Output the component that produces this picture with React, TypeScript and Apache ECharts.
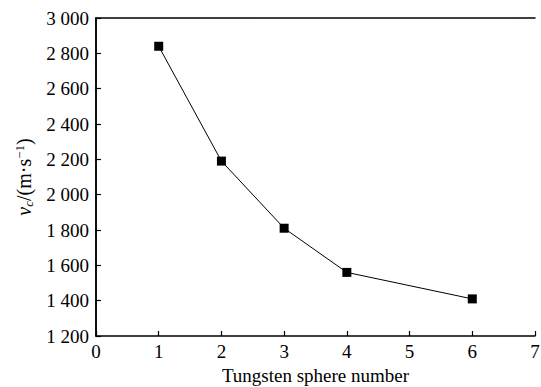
import React, { useEffect, useRef } from "react";
import * as echarts from "echarts";

const xValues = [1, 2, 3, 4, 6];
const yValues = [2840, 2190, 1810, 1560, 1410];
const xName = "Tungsten sphere number";
const yNameParts = ["v", "c", "/(m·s", "−1", ")"];

const FONT = "serif";

export default function App() {
  const ref = useRef<HTMLDivElement>(null);
  useEffect(() => {
    if (!ref.current) return;
    const chart = echarts.init(ref.current, null, { renderer: "svg" });
    const axisLine = { show: true, lineStyle: { color: "#000", width: 1.5 } };
    const fmtY = (v: number) => {
      const s = String(v);
      return s.length > 3 ? s.slice(0, s.length - 3) + " " + s.slice(-3) : s;
    };
    const yName = `{v|${yNameParts[0]}}{sub|${yNameParts[1]}}{n|${yNameParts[2]}}{sup|${yNameParts[3]}}{n|${yNameParts[4]}}`;
    chart.setOption({
      animation: false,
      grid: { left: 96, right: 6, top: 18, bottom: 51, containLabel: false, outerBoundsMode: "none" },
      xAxis: [
        {
          type: "value",
          min: 0,
          max: 7,
          interval: 1,
          axisLine,
          axisTick: { show: true, inside: true, length: 5, lineStyle: { color: "#000", width: 1.2 } },
          axisLabel: { color: "#000", fontFamily: FONT, fontSize: 19, margin: 6 },
          splitLine: { show: false },
          name: xName,
          nameLocation: "middle",
          nameGap: 20,
          nameTextStyle: { color: "#000", fontFamily: FONT, fontSize: 19 },
        },
        {
          type: "value",
          position: "top",
          min: 0,
          max: 7,
          interval: 1,
          axisLine,
          axisTick: { show: false },
          axisLabel: { show: false },
          splitLine: { show: false },
        },
      ],
      yAxis: [
        {
          type: "value",
          min: 1200,
          max: 3000,
          interval: 200,
          axisLine,
          axisTick: { show: true, inside: true, length: 5, lineStyle: { color: "#000", width: 1.2 } },
          axisLabel: { color: "#000", fontFamily: FONT, fontSize: 19, margin: 7, formatter: fmtY },
          splitLine: { show: false },
          name: yName,
          nameLocation: "middle",
          nameRotate: 90,
          nameGap: 60,
          nameTextStyle: {
            color: "#000",
            fontFamily: FONT,
            fontSize: 20,
            rich: {
              n: { fontFamily: FONT, fontSize: 20, color: "#000" },
              v: { fontFamily: FONT, fontSize: 20, fontStyle: "italic", color: "#000" },
              sub: { fontFamily: FONT, fontSize: 13, fontStyle: "italic", color: "#000", verticalAlign: "bottom", padding: [9, 0, 0, 0] },
              sup: { fontFamily: FONT, fontSize: 13, color: "#000", verticalAlign: "top", padding: [0, 0, 9, 0] },
            },
          },
        },
        {
          type: "value",
          position: "right",
          min: 1200,
          max: 3000,
          interval: 200,
          axisLine,
          axisTick: { show: false },
          axisLabel: { show: false },
          splitLine: { show: false },
        },
      ],
      series: [
        {
          type: "line",
          data: xValues.map((x, i) => [x, yValues[i]]),
          symbol: "rect",
          symbolSize: 9,
          itemStyle: { color: "#000" },
          lineStyle: { color: "#000", width: 1 },
        },
      ],
    });
    return () => chart.dispose();
  }, []);
  return <div ref={ref} style={{ width: 541, height: 387, position: "absolute", left: 0, top: 0 }} />;
}
